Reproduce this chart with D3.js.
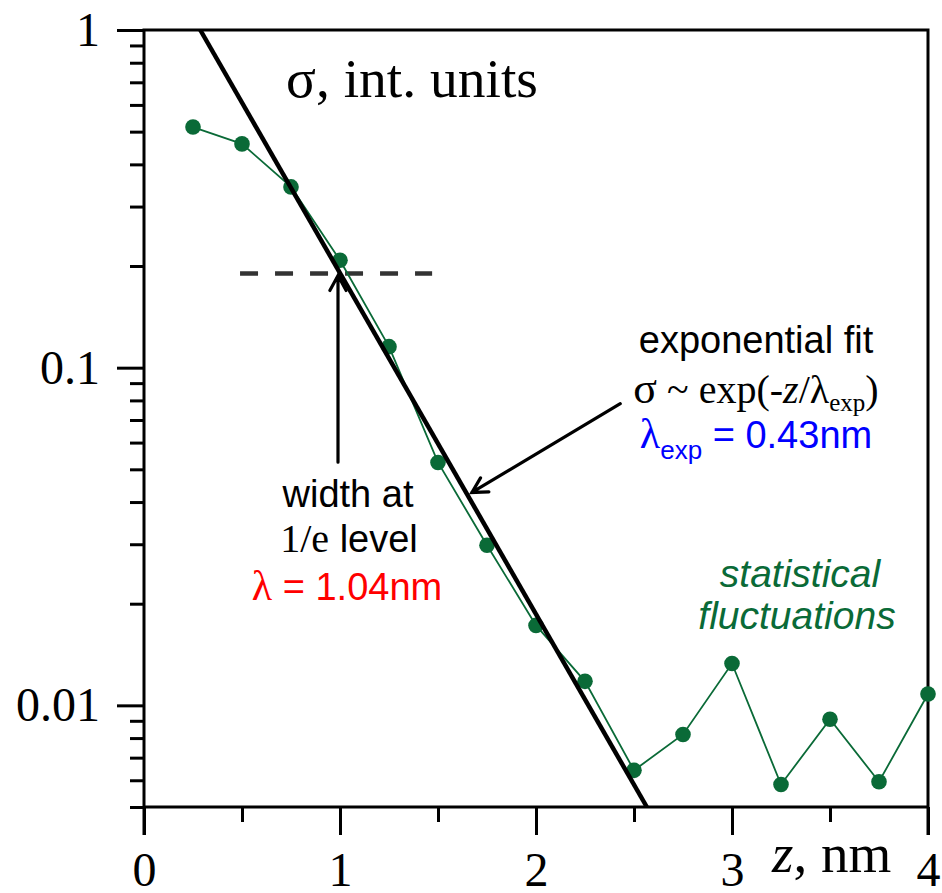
<!DOCTYPE html>
<html>
<head>
<meta charset="utf-8">
<script src="https://cdn.jsdelivr.net/npm/d3@7"></script>
<style>
  html, body { margin: 0; padding: 0; background: #fff; }
  svg { display: block; }
</style>
</head>
<body>
<svg id="chart" width="942" height="893"></svg>
<script>
// Depth profile of sigma (log scale) with exponential fit
const zValues = [0.25, 0.5, 0.75, 1.0, 1.25, 1.5, 1.75, 2.0, 2.25, 2.5, 2.75, 3.0, 3.25, 3.5, 3.75, 4.0];
const sigmaValues = [0.516, 0.460, 0.343, 0.208, 0.1154, 0.0524, 0.0298, 0.01725, 0.01178, 0.00642, 0.0082, 0.0133, 0.00583, 0.0091, 0.00594, 0.0108];

// Exponential fit: sigma = A * exp(-z / lambda)
const fitLambda = 0.43;
const fitAmplitude = 1.95;

// 1/e level marker
const levelValue = 0.19;
const levelZ = [0.49, 1.47];
const widthZ = 1.0;

const xMajorTicks = [0, 1, 2, 3, 4];
const xMinorTicks = [0.5, 1.5, 2.5, 3.5];
const yMajorTicks = [1, 0.1, 0.01];
const yTickLabels = ["1", "0.1", "0.01"];
const yMinorTicks = [0.9, 0.8, 0.7, 0.6, 0.5, 0.4, 0.3, 0.2,
                     0.09, 0.08, 0.07, 0.06, 0.05, 0.04, 0.03, 0.02,
                     0.009, 0.008, 0.007, 0.006, 0.005];

const svg = d3.select("#chart");
const plotLeft = 144, plotRight = 928, plotTop = 30, plotBottom = 807;

const x = d3.scaleLinear().domain([0, 4]).range([plotLeft, plotRight]);
const y = d3.scaleLog().domain([0.005, 1]).range([plotBottom, plotTop]);

const SERIF = "'Liberation Serif', 'Times New Roman', serif";
const SANS = "'Liberation Sans', Arial, sans-serif";
const GREEN = "#0a6a37";

// ---- axes ----
function styleAxis(g) {
  g.selectAll("path, line").attr("stroke", "#000").attr("stroke-width", 3);
  g.select(".domain").remove();
}

svg.append("g").attr("transform", `translate(${plotLeft},0)`)
  .call(d3.axisLeft(y).tickValues(yMinorTicks).tickSize(14).tickFormat(""))
  .call(styleAxis);

svg.append("g").attr("transform", `translate(${plotLeft},0)`)
  .call(d3.axisLeft(y).tickValues(yMajorTicks).tickSize(27).tickPadding(17)
    .tickFormat((d, i) => yTickLabels[i]))
  .call(styleAxis)
  .call(g => g.selectAll("text")
    .attr("font-family", SERIF).attr("font-size", 48).attr("fill", "#000"));

svg.append("g").attr("transform", `translate(0,${plotBottom})`)
  .call(d3.axisBottom(x).tickValues(xMinorTicks).tickSize(15).tickFormat(""))
  .call(styleAxis);

svg.append("g").attr("transform", `translate(0,${plotBottom})`)
  .call(d3.axisBottom(x).tickValues(xMajorTicks).tickSize(28).tickFormat(d3.format("d")))
  .call(styleAxis)
  .call(g => g.selectAll("text")
    .attr("y", 79).attr("dy", 0)
    .attr("font-family", SERIF).attr("font-size", 48).attr("fill", "#000"));

// frame
svg.append("path")
  .attr("d", `M${plotLeft},${plotBottom + 28}V${plotTop}H${plotRight}V${plotBottom + 28}M${plotLeft},${plotBottom}H${plotRight}`)
  .attr("fill", "none").attr("stroke", "#000").attr("stroke-width", 3);

// ---- 1/e level dashed line ----
svg.append("line")
  .attr("x1", x(levelZ[0])).attr("x2", x(levelZ[1]))
  .attr("y1", y(levelValue)).attr("y2", y(levelValue))
  .attr("stroke", "#333").attr("stroke-width", 4.5)
  .attr("stroke-dasharray", "18,17");

// ---- data series ----
const pts = zValues.map((z, i) => [z, sigmaValues[i]]);
svg.append("path")
  .datum(pts)
  .attr("d", d3.line().x(d => x(d[0])).y(d => y(d[1])))
  .attr("fill", "none").attr("stroke", GREEN).attr("stroke-width", 1.8);

svg.append("g").selectAll("circle")
  .data(pts).join("circle")
  .attr("cx", d => x(d[0])).attr("cy", d => y(d[1])).attr("r", 7.8)
  .attr("fill", GREEN);

// ---- exponential fit line (straight on log axis) ----
const fitFn = z => fitAmplitude * Math.exp(-z / fitLambda);
const zTop = fitLambda * Math.log(fitAmplitude / 1);
const zBot = fitLambda * Math.log(fitAmplitude / 0.005);
svg.append("path")
  .datum([zTop, zBot])
  .attr("d", d3.line().x(z => x(z)).y(z => y(fitFn(z))))
  .attr("fill", "none").attr("stroke", "#000").attr("stroke-width", 4.5);

// ---- arrows ----
function arrow(x1, y1, x2, y2) {
  const ang = Math.atan2(y2 - y1, x2 - x1);
  const L = 17, W = 0.5;
  const a1 = [x2 - L * Math.cos(ang - W), y2 - L * Math.sin(ang - W)];
  const a2 = [x2 - L * Math.cos(ang + W), y2 - L * Math.sin(ang + W)];
  svg.append("path")
    .attr("d", `M${x1},${y1}L${x2},${y2}M${a1[0]},${a1[1]}L${x2},${y2}L${a2[0]},${a2[1]}`)
    .attr("fill", "none").attr("stroke", "#000").attr("stroke-width", 3.2)
    .attr("stroke-linecap", "round").attr("stroke-linejoin", "miter");
}
arrow(x(widthZ) - 2, y(0.0525), x(widthZ) - 2, y(levelValue) + 2);
arrow(x(2.43), y(0.0782), x(1.673), y(0.0427));

// ---- text ----
function txt(xp, yp, opts) {
  return svg.append("text").attr("x", xp).attr("y", yp)
    .attr("font-family", opts.family || SANS)
    .attr("font-size", opts.size || 38)
    .attr("fill", opts.fill || "#000")
    .attr("text-anchor", opts.anchor || "start")
    .attr("font-style", opts.style || "normal");
}

// title
const t1 = txt(286, 97, { family: SERIF, size: 55.5 });
t1.text("σ, int. units");

// x axis title
const xt = txt(772, 872, { family: SERIF, size: 55 });
xt.append("tspan").attr("font-style", "italic").text("z");
xt.append("tspan").text(", nm");

// width at 1/e level
txt(348, 507, { anchor: "middle" }).text("width at");
const l2 = txt(349, 552, { anchor: "middle" });
l2.append("tspan").attr("font-family", SERIF).attr("font-size", 40).text("1/e");
l2.append("tspan").text(" level");
const l3 = txt(347, 600, { anchor: "middle", fill: "#ff0000" });
l3.append("tspan").attr("font-family", SERIF).attr("font-size", 42).text("λ");
l3.append("tspan").text(" = 1.04nm");

// exponential fit
txt(756, 353, { anchor: "middle" }).text("exponential fit");
const f2 = txt(756, 403, { anchor: "middle", family: SERIF, size: 40 });
f2.append("tspan").attr("font-size", 44).text("σ");
f2.append("tspan").text(" ~ exp(-");
f2.append("tspan").attr("font-style", "italic").text("z");
f2.append("tspan").text("/λ");
f2.append("tspan").attr("font-size", 25).attr("dy", 8).text("exp");
f2.append("tspan").attr("dy", -8).text(")");
const f3 = txt(756, 448, { anchor: "middle", fill: "#0000ff" });
f3.append("tspan").attr("font-family", SERIF).attr("font-size", 42).text("λ");
f3.append("tspan").attr("font-size", 26).attr("dy", 11).text("exp");
f3.append("tspan").attr("dy", -11).text(" = 0.43nm");

// statistical fluctuations
txt(800, 587, { anchor: "middle", fill: GREEN, style: "italic", size: 39 }).text("statistical");
txt(797, 629, { anchor: "middle", fill: GREEN, style: "italic", size: 39 }).text("fluctuations");
</script>
</body>
</html>
